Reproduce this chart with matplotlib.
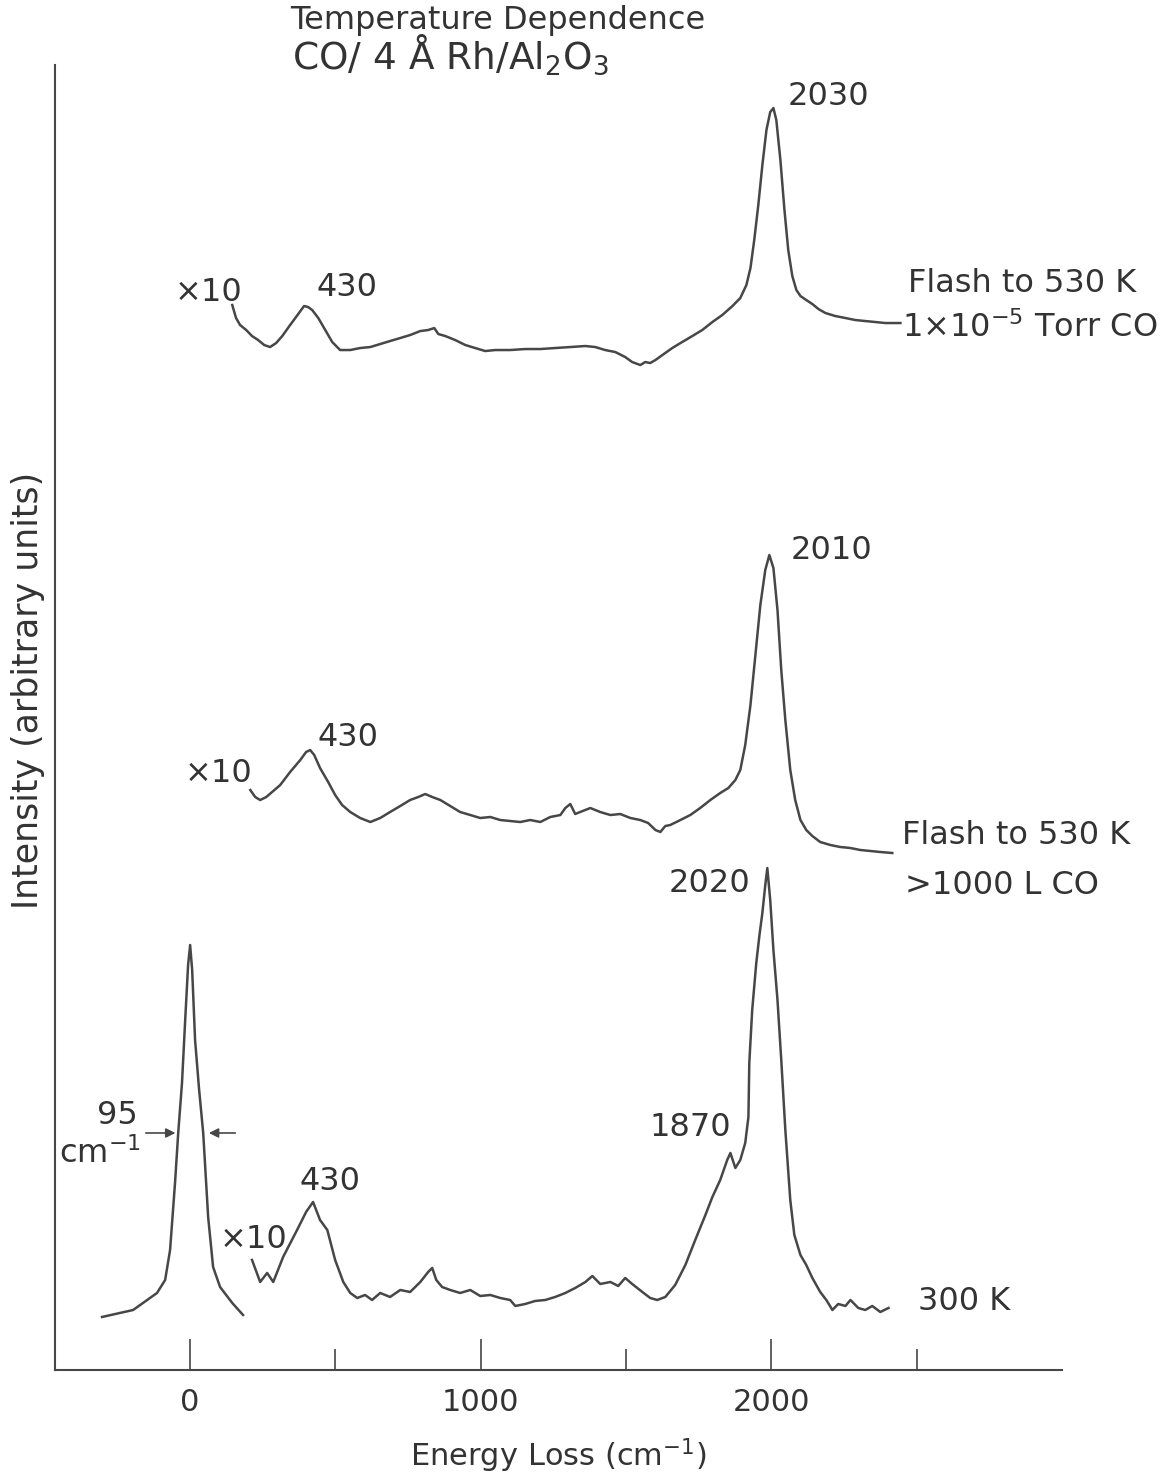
import matplotlib
matplotlib.use("Agg")
import matplotlib.pyplot as plt

plt.rcParams['font.family'] = ['DejaVu Sans']
plt.rcParams['mathtext.fontset'] = 'dejavusans'

# energy loss in cm-1, intensity in arbitrary units (spectra stacked)
elastic_x = [-303, -196, -114, -86, -69, -52, -41, -28, -17, -7, 0, 7, 17, 31, 45, 62, 79, 103, 145, 182]
elastic_y = [5.3, 6.0, 7.7, 9.0, 12.0, 18.7, 23.7, 28.7, 35.0, 40.5, 42.5, 40.0, 33.0, 28.0, 23.7, 15.3, 10.3, 8.3, 6.7, 5.5]

k300_x = [213, 241, 265, 286, 320, 368, 399, 423, 447, 472, 499, 527, 551, 575, 602, 626, 654, 688, 723, 757,
          792, 819, 833, 847, 867, 895, 929, 964, 998, 1033, 1067, 1101, 1119, 1153, 1187, 1222, 1256, 1291, 1325, 1360,
          1384, 1411, 1446, 1473, 1497, 1521, 1556, 1583, 1607, 1635, 1669, 1704, 1738, 1773, 1797, 1824, 1848, 1859, 1876, 1893,
          1910, 1921, 1924, 1934, 1948, 1959, 1969, 1979, 1986, 1996, 2007, 2021, 2034, 2048, 2065, 2079, 2100, 2120, 2141, 2168,
          2189, 2210, 2230, 2255, 2272, 2299, 2323, 2347, 2375, 2403]
k300_y = [11.0, 8.8, 9.7, 8.8, 11.3, 14.0, 15.8, 16.8, 15.0, 14.0, 11.0, 8.8, 7.7, 7.2, 7.5, 7.0, 7.7, 7.3, 8.0, 7.8,
          8.8, 9.8, 10.2, 9.0, 8.3, 8.0, 7.7, 8.0, 7.4, 7.5, 7.2, 7.0, 6.4, 6.6, 6.9, 7.0, 7.3, 7.7, 8.2, 8.8,
          9.4, 8.6, 8.8, 8.4, 9.2, 8.6, 7.8, 7.2, 7.0, 7.3, 8.5, 10.5, 13.0, 15.5, 17.3, 19.0, 21.0, 21.7, 20.2, 21.0,
          22.7, 25.3, 30.7, 36.0, 40.7, 43.5, 45.7, 48.5, 50.2, 47.0, 42.0, 37.0, 31.0, 24.0, 17.0, 13.5, 11.5, 10.5, 9.2, 7.8,
          7.0, 6.0, 6.6, 6.4, 7.0, 6.2, 6.0, 6.4, 5.8, 6.2]

flash1000_x = [207, 224, 241, 262, 282, 310, 344, 379, 399, 413, 427, 447, 475, 499, 523, 551, 585, 620, 654, 688,
               723, 757, 785, 809, 833, 861, 895, 929, 964, 998, 1033, 1067, 1101, 1136, 1170, 1205, 1239, 1274, 1291, 1308,
               1325, 1342, 1377, 1411, 1446, 1480, 1515, 1549, 1576, 1601, 1618, 1635, 1652, 1687, 1721, 1755, 1790, 1824, 1852, 1876,
               1893, 1910, 1928, 1945, 1962, 1979, 1993, 2007, 2021, 2034, 2048, 2065, 2082, 2100, 2120, 2141, 2168, 2203, 2237, 2272,
               2306, 2341, 2375, 2416]
flash1000_y = [58.0, 57.3, 57.0, 57.3, 57.8, 58.5, 59.8, 61.0, 61.8, 62.0, 61.5, 60.2, 58.8, 57.5, 56.5, 55.8, 55.2, 54.8, 55.2, 55.8,
               56.4, 57.0, 57.3, 57.6, 57.3, 57.0, 56.4, 55.8, 55.5, 55.2, 55.3, 55.0, 54.9, 54.8, 55.0, 54.8, 55.3, 55.5, 56.2, 56.6,
               55.6, 55.8, 56.2, 55.8, 55.5, 55.6, 55.2, 55.0, 54.7, 54.0, 53.8, 54.4, 54.5, 55.0, 55.5, 56.2, 57.0, 57.7, 58.2, 59.0,
               60.0, 62.5, 66.5, 71.5, 76.5, 80.0, 81.5, 80.2, 76.0, 70.0, 65.0, 60.0, 57.0, 55.0, 54.0, 53.4, 52.8, 52.5, 52.3, 52.2,
               52.0, 51.9, 51.8, 51.7]

flashtorr_x = [145, 158, 172, 193, 213, 234, 255, 275, 296, 317, 344, 372, 392, 406, 420, 441, 465, 489, 516, 551,
               585, 620, 654, 688, 723, 757, 792, 819, 840, 854, 878, 912, 947, 981, 1015, 1050, 1101, 1153, 1205, 1256,
               1308, 1360, 1394, 1428, 1463, 1497, 1521, 1549, 1566, 1583, 1601, 1625, 1659, 1693, 1728, 1762, 1797, 1831, 1866, 1893,
               1914, 1928, 1941, 1955, 1969, 1983, 1996, 2007, 2017, 2031, 2045, 2058, 2072, 2086, 2100, 2120, 2141, 2162, 2186, 2220,
               2255, 2289, 2323, 2358, 2392, 2444]
flashtorr_y = [106.5, 105.2, 104.5, 104.0, 103.4, 103.0, 102.5, 102.3, 102.7, 103.4, 104.5, 105.6, 106.4, 106.3, 106.0, 105.2, 104.0, 102.8, 102.0, 102.0,
               102.2, 102.3, 102.6, 102.9, 103.2, 103.5, 103.9, 104.0, 104.2, 103.6, 103.4, 103.0, 102.5, 102.2, 101.9, 102.0, 102.0, 102.1, 102.1, 102.2,
               102.3, 102.4, 102.3, 102.0, 101.8, 101.3, 100.8, 100.5, 100.8, 100.7, 101.0, 101.5, 102.2, 102.8, 103.4, 104.0, 104.8, 105.5, 106.4, 107.2,
               108.5, 110.2, 113.0, 116.5, 120.5, 124.0, 125.8, 126.2, 125.0, 121.0, 116.0, 112.0, 109.4, 108.0, 107.4, 107.0, 106.6, 106.1, 105.7, 105.4,
               105.2, 105.0, 104.9, 104.8, 104.7, 104.7]

tick_major = [0, 1000, 2000]
tick_minor = [500, 1500, 2500]

ink = '#474747'

fig = plt.figure(figsize=(11.7, 14.75), dpi=100)
ax = fig.add_axes([0.047, 0.0712, 0.8607, 0.8847])

for xs, ys in [(elastic_x, elastic_y), (k300_x, k300_y), (flash1000_x, flash1000_y), (flashtorr_x, flashtorr_y)]:
    ax.plot(xs, ys, color=ink, lw=1.8)

ax.set_xlim(-465, 3000)
ax.set_ylim(0, 130.5)
ax.spines['top'].set_visible(False)
ax.spines['right'].set_visible(False)
ax.spines['left'].set_color(ink)
ax.spines['bottom'].set_color(ink)
ax.spines['left'].set_linewidth(1.5)
ax.spines['bottom'].set_linewidth(1.5)

ax.set_xticks(tick_major)
ax.set_xticklabels([str(t) for t in tick_major])
ax.set_xticks(tick_minor, minor=True)
ax.set_yticks([])
ax.tick_params(axis='x', which='major', direction='in', length=22, width=1.2, color=ink,
               labelcolor='#333333', labelsize=22, pad=13)
ax.tick_params(axis='x', which='minor', direction='in', length=15, width=1.2, color=ink)

ax.set_xlabel('Energy Loss (cm$^{-1}$)', fontsize=22, color='#333333', labelpad=14)
ax.set_ylabel('Intensity (arbitrary units)', fontsize=25, color='#333333')
ax.yaxis.set_label_coords(-0.01, 0.521)

fig.text(0.248, 0.986, 'Temperature Dependence', fontsize=23, color='#333333', ha='left', va='center')
fig.text(0.25, 0.963, 'CO/ 4 Å Rh/Al$_2$O$_3$', fontsize=27, color='#333333', ha='left', va='center')

txt = dict(fontsize=23, color='#333333', va='center')
# top spectrum
ax.text(2196, 127.4, '2030', ha='center', **txt)
ax.text(540, 108.3, '430', ha='center', **txt)
ax.text(62, 107.8, '×10', ha='center', **txt)
ax.text(2471, 108.7, 'Flash to 530 K', ha='left', **txt)
ax.text(2451, 104.2, '1×10$^{-5}$ Torr CO', ha='left', **txt)
# middle spectrum
ax.text(2206, 82.0, '2010', ha='center', **txt)
ax.text(544, 63.3, '430', ha='center', **txt)
ax.text(96, 59.7, '×10', ha='center', **txt)
ax.text(2451, 53.5, 'Flash to 530 K', ha='left', **txt)
ax.text(2461, 48.5, '>1000 L CO', ha='left', **txt)
# bottom spectrum
ax.text(1786, 48.7, '2020', ha='center', **txt)
ax.text(1721, 24.2, '1870', ha='center', **txt)
ax.text(482, 18.8, '430', ha='center', **txt)
ax.text(217, 13.0, '×10', ha='center', **txt)
ax.text(2506, 6.8, '300 K', ha='left', **txt)

# FWHM of elastic peak
ax.text(-251, 25.4, '95', ha='center', **txt)
ax.text(-310, 21.6, 'cm$^{-1}$', ha='center', **txt)
arrow = dict(arrowstyle='-|>', color=ink, lw=1.2, mutation_scale=14)
ax.annotate('', xy=(-41, 23.7), xytext=(-162, 23.7), arrowprops=arrow)
ax.annotate('', xy=(55, 23.7), xytext=(165, 23.7), arrowprops=arrow)

fig.savefig('out.png', dpi=100)
